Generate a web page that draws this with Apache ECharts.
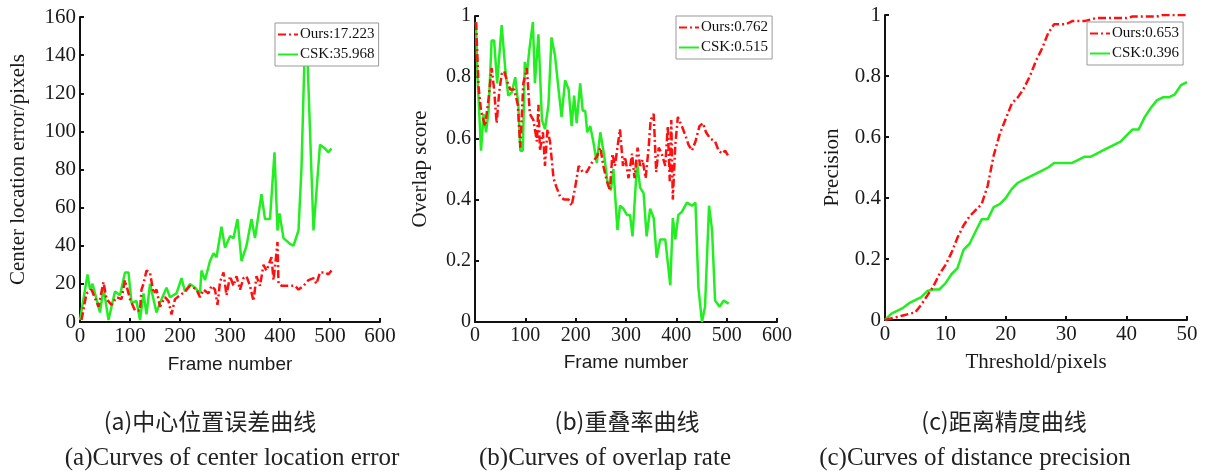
<!DOCTYPE html>
<html>
<head>
<meta charset="utf-8">
<script src="https://cdn.jsdelivr.net/npm/echarts@6/dist/echarts.min.js"></script>
<style>
  html, body { margin: 0; padding: 0; background: #fff; }
  #chart { width: 1206px; height: 472px; }
</style>
</head>
<body>
<div id="chart"></div>
<script>
// (a) center location error: [frame, pixels]
const errOurs = [[3,1],[13,15],[23,17],[37,8],[47,21],[53,12],[63,9],[73,13],[83,12],[90,22],[100,12],[110,6],[120,6],[123,17],[127,20],[133,27],[140,26],[147,15],[153,17],[160,8],[170,13],[177,11],[183,4],[190,12],[200,14],[210,16],[220,19],[233,17],[240,13],[247,17],[257,15],[263,19],[270,17],[275,9],[280,21],[287,26],[293,14],[300,24],[307,19],[313,24],[320,17],[327,23],[333,24],[340,19],[347,11],[353,24],[360,19],[367,30],[373,27],[383,34],[387,22],[392,34],[395,42],[397,20],[403,19],[410,19],[420,19],[430,19],[437,17],[447,19],[457,22],[467,23],[473,20],[480,26],[490,26],[497,25],[503,27]];
const errCsk = [[0,1],[15,25],[20,17],[25,20],[40,5],[47,18],[57,1],[70,16],[80,14],[90,26],[97,26],[103,10],[113,11],[120,1],[127,15],[133,4],[140,20],[153,5],[160,10],[173,18],[180,13],[193,15],[203,23],[210,16],[220,20],[230,18],[240,15],[243,27],[250,22],[260,32],[267,36],[273,34],[283,50],[290,39],[300,45],[307,44],[315,54],[323,32],[333,40],[343,54],[350,44],[363,67],[370,54],[380,54],[389,89],[395,48],[399,57],[407,44],[420,41],[427,40],[437,48],[443,81],[449,139],[455,138],[467,48],[470,48],[480,93],[490,91],[497,89],[503,91]];

// (b) overlap score: [frame, score]
const ovlOurs = [[2,0.98],[7,0.77],[12,0.69],[20,0.64],[27,0.73],[33,0.83],[38,0.76],[43,0.65],[48,0.75],[53,0.81],[58,0.82],[63,0.79],[70,0.76],[78,0.76],[85,0.71],[90,0.57],[96,0.78],[103,0.83],[109,0.68],[116,0.66],[123,0.59],[126,0.71],[129,0.56],[135,0.62],[139,0.51],[144,0.63],[149,0.59],[156,0.47],[162,0.44],[169,0.41],[177,0.40],[186,0.40],[192,0.38],[199,0.44],[206,0.51],[214,0.49],[222,0.49],[232,0.52],[242,0.54],[249,0.57],[255,0.51],[262,0.46],[268,0.43],[273,0.55],[278,0.51],[283,0.57],[288,0.63],[294,0.51],[298,0.54],[305,0.47],[312,0.55],[317,0.47],[323,0.57],[328,0.51],[333,0.53],[339,0.47],[345,0.57],[349,0.66],[355,0.68],[360,0.49],[365,0.57],[371,0.55],[378,0.51],[383,0.64],[387,0.46],[390,0.66],[393,0.40],[398,0.58],[403,0.67],[411,0.64],[418,0.61],[424,0.58],[431,0.56],[438,0.59],[446,0.64],[453,0.65],[459,0.62],[467,0.60],[477,0.59],[484,0.56],[491,0.55],[497,0.56],[504,0.54]];
const ovlCsk = [[2,0.98],[5,0.80],[12,0.56],[17,0.68],[22,0.62],[27,0.69],[33,0.92],[38,0.92],[44,0.78],[53,0.97],[60,0.83],[66,0.74],[73,0.75],[80,0.80],[86,0.71],[90,0.56],[95,0.56],[99,0.85],[103,0.81],[108,0.89],[115,0.98],[119,0.78],[126,0.94],[133,0.66],[139,0.63],[146,0.71],[152,0.93],[159,0.87],[166,0.76],[172,0.67],[179,0.79],[186,0.76],[192,0.64],[197,0.74],[202,0.65],[209,0.78],[214,0.69],[219,0.69],[223,0.62],[229,0.64],[235,0.59],[242,0.52],[249,0.62],[257,0.54],[263,0.46],[270,0.43],[275,0.50],[283,0.30],[288,0.38],[295,0.37],[302,0.35],[308,0.35],[313,0.28],[322,0.52],[328,0.44],[335,0.42],[341,0.28],[348,0.37],[355,0.34],[361,0.21],[368,0.27],[378,0.27],[388,0.12],[393,0.34],[398,0.27],[404,0.35],[411,0.36],[421,0.39],[431,0.38],[438,0.39],[444,0.11],[451,0.0],[457,0.05],[465,0.38],[471,0.30],[477,0.07],[486,0.05],[494,0.07],[504,0.06]];

// (c) distance precision, threshold 0..50
const thresholds = Array.from({ length: 51 }, (_, i) => i);
const precOurs = [0,0.005,0.01,0.015,0.02,0.025,0.05,0.08,0.11,0.15,0.18,0.22,0.27,0.31,0.34,0.36,0.38,0.44,0.54,0.61,0.66,0.71,0.73,0.76,0.80,0.85,0.89,0.94,0.97,0.97,0.97,0.98,0.98,0.98,0.985,0.99,0.99,0.99,0.99,0.99,0.99,0.995,0.995,0.995,0.995,0.995,1,1,1,1,1];
const precCsk = [0,0.02,0.03,0.04,0.055,0.065,0.075,0.095,0.10,0.10,0.12,0.15,0.17,0.23,0.25,0.29,0.33,0.33,0.37,0.38,0.40,0.43,0.45,0.46,0.47,0.48,0.49,0.50,0.515,0.515,0.515,0.515,0.525,0.535,0.535,0.545,0.555,0.565,0.575,0.585,0.605,0.625,0.625,0.665,0.695,0.72,0.73,0.73,0.74,0.77,0.78];

const legendNames = [
  ["Ours:17.223", "CSK:35.968"],
  ["Ours:0.762", "CSK:0.515"],
  ["Ours:0.653", "CSK:0.396"]
];
const captionsZh = ["(a)中心位置误差曲线", "(b)重叠率曲线", "(c)距离精度曲线"];
const captionsEn = ["(a)Curves of center location error", "(b)Curves of overlap rate", "(c)Curves of distance precision"];

const SERIF = "Liberation Serif, Times New Roman, serif";
const SANS = "Liberation Sans, Arial, sans-serif";
const RED = "#ff1010";
const GREEN = "#22ee22";

const grids = [
  { left: 80, top: 17, width: 300, height: 305 },
  { left: 475, top: 16, width: 302, height: 306 },
  { left: 885, top: 15, width: 302, height: 305 }
];

function axisBase(extra, labelSize) {
  return Object.assign({
    type: "value",
    axisLine: { show: true, lineStyle: { color: "#111", width: 2 } },
    axisTick: { show: true, inside: true, length: 4, lineStyle: { color: "#111", width: 2 } },
    axisLabel: { color: "#1a1a1a", fontFamily: SERIF, fontSize: labelSize, margin: 4 },
    splitLine: { show: false },
    nameLocation: "middle",
    nameTextStyle: { color: "#1a1a1a", fontFamily: SERIF, fontSize: 21 }
  }, extra);
}

const xAxes = [
  axisBase({ gridIndex: 0, min: 0, max: 600, interval: 100, name: "Frame number", nameGap: 33,
    nameTextStyle: { color: "#1a1a1a", fontFamily: SANS, fontSize: 19 } }, 21),
  axisBase({ gridIndex: 1, min: 0, max: 600, interval: 100, name: "Frame number", nameGap: 31,
    nameTextStyle: { color: "#1a1a1a", fontFamily: SANS, fontSize: 19 } }, 20),
  axisBase({ gridIndex: 2, min: 0, max: 50, interval: 10, name: "Threshold/pixels", nameGap: 32 }, 21)
];
const yAxes = [
  axisBase({ gridIndex: 0, min: 0, max: 160, interval: 20, name: "Center location error/pixels", nameGap: 51 }, 21),
  axisBase({ gridIndex: 1, min: 0, max: 1, interval: 0.2, name: "Overlap score", nameGap: 44 }, 20),
  axisBase({ gridIndex: 2, min: 0, max: 1, interval: 0.2, name: "Precision", nameGap: 42 }, 21)
];

function lineSeries(name, idx, data, isOurs) {
  return {
    name: name,
    type: "line",
    xAxisIndex: idx,
    yAxisIndex: idx,
    data: data,
    symbol: "none",
    showSymbol: false,
    smooth: false,
    lineStyle: isOurs
      ? { color: RED, width: 2.5, type: [8, 3, 2, 3] }
      : { color: GREEN, width: 2.5, type: "solid" },
    itemStyle: { color: isOurs ? RED : GREEN },
    z: isOurs ? 3 : 2
  };
}

const series = [
  lineSeries(legendNames[0][1], 0, errCsk, false),
  lineSeries(legendNames[0][0], 0, errOurs, true),
  lineSeries(legendNames[1][1], 1, ovlCsk, false),
  lineSeries(legendNames[1][0], 1, ovlOurs, true),
  lineSeries(legendNames[2][1], 2, thresholds.map((t, i) => [t, precCsk[i]]), false),
  lineSeries(legendNames[2][0], 2, thresholds.map((t, i) => [t, precOurs[i]]), true)
];

const legendPos = [
  { left: 275, top: 23 },
  { left: 676, top: 16 },
  { left: 1087, top: 22 }
];
const legends = legendNames.map((names, i) => ({
  data: names,
  orient: "vertical",
  left: legendPos[i].left,
  top: legendPos[i].top,
  backgroundColor: "#fff",
  borderColor: "#999",
  borderWidth: 1,
  borderRadius: 0,
  padding: [4, 4, 4, 2],
  itemGap: 5,
  itemWidth: 20,
  itemHeight: 14,
  selectedMode: false,
  itemStyle: { opacity: 0, borderWidth: 0 },
  textStyle: { color: "#111", fontFamily: SERIF, fontSize: 15, padding: [0, 0, 0, -3] }
}));

// caption centres (x) and baselines-middle (y)
const captionZhX = [210, 627, 1004];
const captionEnX = [232, 605, 975];
const captions = [];
captionsZh.forEach((t, i) => captions.push({
  type: "text", x: captionZhX[i], y: 421,
  style: { text: t, textAlign: "center", verticalAlign: "middle", textVerticalAlign: "middle",
    fill: "#222", font: "23px 'Noto Sans CJK SC', sans-serif" }
}));
captionsEn.forEach((t, i) => captions.push({
  type: "text", x: captionEnX[i], y: 458,
  style: { text: t, textAlign: "center", verticalAlign: "middle", textVerticalAlign: "middle",
    fill: "#222", font: "25px 'Liberation Serif', serif" }
}));

const chart = echarts.init(document.getElementById("chart"), null, { renderer: "canvas" });
chart.setOption({
  animation: false,
  backgroundColor: "#fff",
  grid: grids,
  xAxis: xAxes,
  yAxis: yAxes,
  legend: legends,
  series: series,
  graphic: captions
});
</script>
</body>
</html>
